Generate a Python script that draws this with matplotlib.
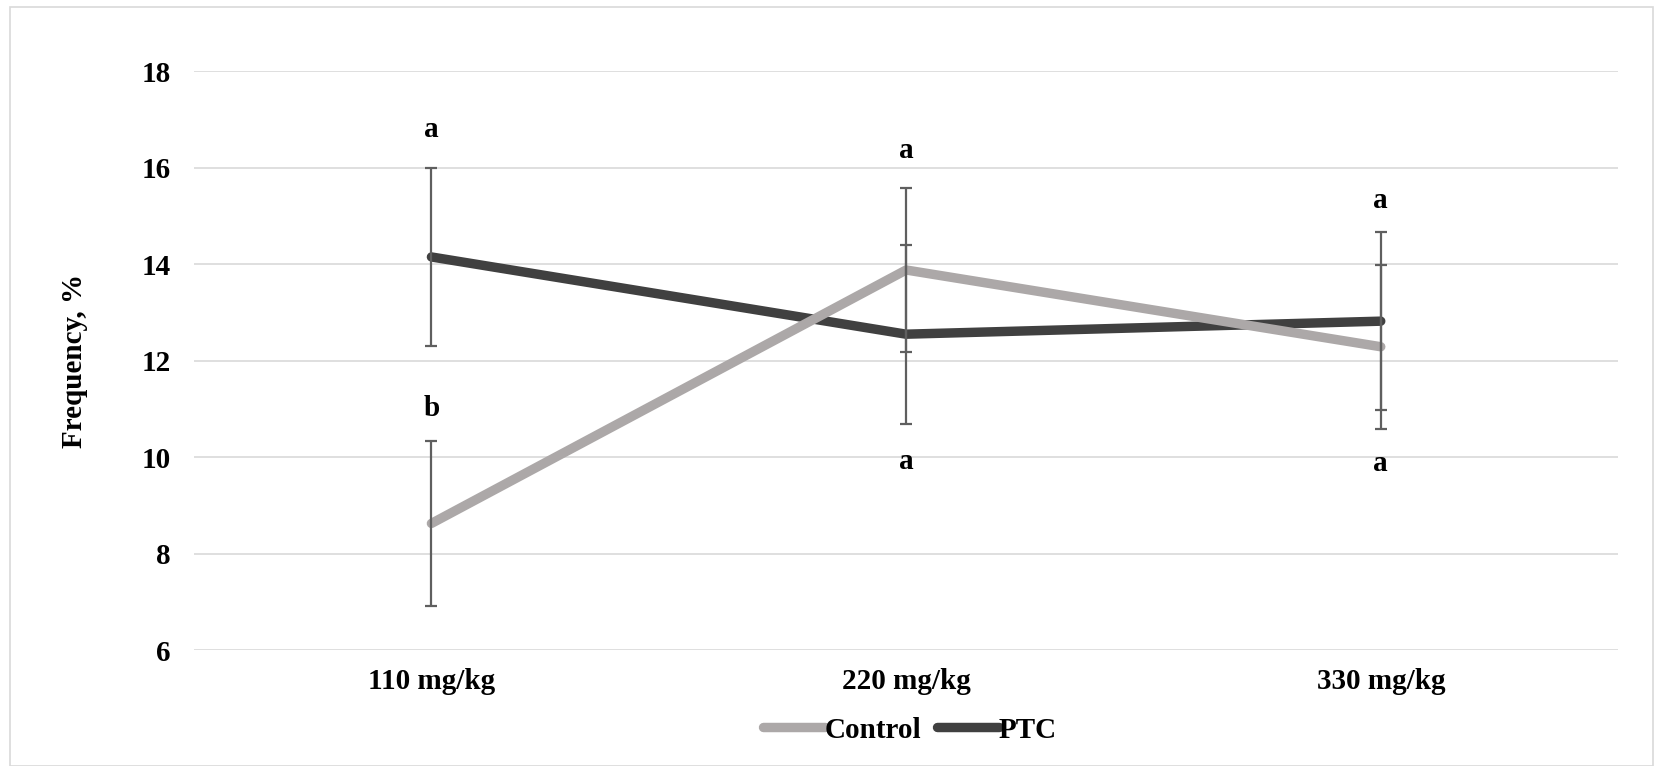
import matplotlib
matplotlib.use("Agg")
import matplotlib.pyplot as plt
from matplotlib.patches import Rectangle

categories = ["110 mg/kg", "220 mg/kg", "330 mg/kg"]
control = [8.63, 13.88, 12.29]
control_err = [1.70, 1.70, 1.70]
ptc = [14.15, 12.55, 12.82]
ptc_err = [1.85, 1.85, 1.85]

# significance letters: (category index, y value, letter)
letter_x = [0, 0, 1, 1, 2, 2]
letter_y = [16.79, 11.01, 16.35, 9.91, 15.32, 9.87]
letter_txt = ["a", "b", "a", "a", "a", "a"]

yticks = [6, 8, 10, 12, 14, 16, 18]

plt.rcParams['font.family'] = ['Liberation Serif', 'DejaVu Serif']
plt.rcParams['font.weight'] = 'bold'

FS = 21

fig = plt.figure(figsize=(16.63, 7.66), dpi=100)
ax = fig.add_axes([0.1167, 0.1509, 0.973 - 0.1167, 0.9072 - 0.1509])

# outer border
fig.patches.append(Rectangle((10 / 1663, 0.0), 1 - 20 / 1663, 1 - 7 / 766,
                             transform=fig.transFigure, fill=False,
                             edgecolor="#d9d9d9", linewidth=1.2))

x = list(range(len(categories)))
c_ctrl = "#aca8a8"
c_ptc = "#404040"

ax.plot(x, ptc, color=c_ptc, lw=6.8, solid_capstyle='round',
        solid_joinstyle='round', label="PTC", zorder=3)
ax.plot(x, control, color=c_ctrl, lw=6.8, solid_capstyle='round',
        solid_joinstyle='round', label="Control", zorder=4)

ax.errorbar(x, ptc, yerr=ptc_err, fmt='none', ecolor="#5f5f5f",
            elinewidth=1.6, capsize=4.5, capthick=1.6, zorder=5)
ax.errorbar(x, control, yerr=control_err, fmt='none', ecolor="#5f5f5f",
            elinewidth=1.6, capsize=4.5, capthick=1.6, zorder=5)

for xi, yi, t in zip(letter_x, letter_y, letter_txt):
    ax.text(xi, yi, t, ha='center', va='center', fontsize=FS,
            fontweight='bold', zorder=6)

ax.set_xlim(-0.5, 2.5)
ax.set_ylim(6, 18)
ax.set_yticks(yticks)
ax.set_yticklabels([str(v) for v in yticks], fontsize=FS, fontweight='bold')
ax.set_xticks(x)
ax.set_xticklabels(categories, fontsize=FS, fontweight='bold')
ax.tick_params(axis='both', length=0)
ax.tick_params(axis='y', pad=17)
ax.tick_params(axis='x', pad=13)
ax.grid(axis='y', color="#d9d9d9", lw=1.2)
ax.set_axisbelow(True)
for s in ax.spines.values():
    s.set_visible(False)

ax.set_ylabel("Frequency, %", fontsize=FS, fontweight='bold')
ax.yaxis.set_label_coords(-0.0745, 0.5)

handles, labels = ax.get_legend_handles_labels()
order = [1, 0]
leg = fig.legend([handles[i] for i in order], [labels[i] for i in order],
                 loc='center', bbox_to_anchor=(910 / 1663, 1 - 730 / 766),
                 ncol=2, frameon=False, handlelength=2.1,
                 handletextpad=0.0, columnspacing=0.55,
                 prop={'weight': 'bold', 'size': FS})

fig.savefig("out.png", dpi=100)
